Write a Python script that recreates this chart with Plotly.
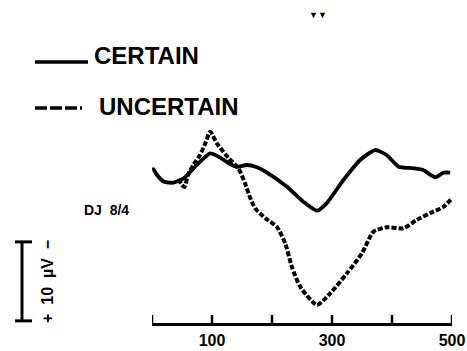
import plotly.graph_objects as go

# Latency (ms) and amplitude (µV, positive plotted downward)
certain_ms = [0, 2, 8, 20, 36, 53, 69, 83, 97, 111, 128, 142, 158, 175, 189, 225, 252, 275, 291, 319, 347, 372, 391, 411, 436, 452, 472, 486, 497]
certain_uv = [0.0, -0.1, 0.6, 1.5, 1.6, 1.05, -0.2, -1.25, -2.11, -1.7, -0.85, -0.4, -0.63, -0.35, 0.2, 2.11, 4.01, 5.15, 4.22, 1.27, -1.27, -2.53, -1.9, -0.42, -0.22, 0.0, 0.92, 0.34, 0.34]

uncertain_ms = [44, 50, 54, 60, 69, 80, 89, 97, 108, 128, 144, 155, 164, 172, 189, 208, 222, 233, 247, 275, 297, 325, 350, 369, 391, 419, 441, 463, 486, 500]
uncertain_uv = [1.14, 1.9, 2.15, 0.63, -0.63, -1.9, -3.4, -4.85, -3.38, -1.48, -0.22, 1.68, 3.58, 4.85, 6.11, 7.18, 9.28, 12.24, 14.77, 17.09, 15.61, 13.08, 10.54, 7.81, 7.25, 7.38, 6.33, 5.48, 4.65, 3.58]

tick_vals = [0, 100, 200, 300, 400, 500]
tick_text = ["", "100", "", "300", "", "500"]

series_names = ["CERTAIN", "UNCERTAIN"]
subject_label = "DJ  8/4"
scale_label = "+  10  µV  −"
scale_uv = 10

W, H = 467, 351
L, R, T, B = 152, 15, 120, 28
PW, PH = W - L - R, H - T - B


def xp(px):
    return (px - L) / PW


def yp(py):
    return (H - B - py) / PH


BOLD = dict(family="Liberation Sans", color="black", weight=700)

fig = go.Figure()
fig.add_trace(go.Scatter(x=certain_ms, y=certain_uv, mode="lines", name=series_names[0],
                         line=dict(color="black", width=3.8, shape="spline", smoothing=0.6),
                         cliponaxis=False, showlegend=False))
fig.add_trace(go.Scatter(x=uncertain_ms, y=uncertain_uv, mode="lines", name=series_names[1],
                         line=dict(color="black", width=4, dash="5px,2px", shape="spline", smoothing=0.6),
                         cliponaxis=False, showlegend=False))

shapes = []
# axis tick marks (pointing up from the axis line)
for tv in tick_vals:
    shapes.append(dict(type="line", xref="x", yref="paper", x0=tv, x1=tv, y0=0, y1=8 / PH,
                       line=dict(color="black", width=2.5)))
# legend lines
shapes.append(dict(type="line", xref="paper", yref="paper", x0=xp(35), x1=xp(88), y0=yp(62), y1=yp(62),
                   line=dict(color="black", width=3.5)))
shapes.append(dict(type="line", xref="paper", yref="paper", x0=xp(35), x1=xp(82), y0=yp(108), y1=yp(108),
                   line=dict(color="black", width=3.5, dash="12px,3px")))
# scale bar (10 µV in data units)
y_top = 9.1
shapes.append(dict(type="line", xref="paper", yref="y", x0=xp(22), x1=xp(22), y0=y_top, y1=y_top + scale_uv,
                   line=dict(color="black", width=3)))
for yy in (y_top, y_top + scale_uv):
    shapes.append(dict(type="line", xref="paper", yref="y", x0=xp(15), x1=xp(32), y0=yy, y1=yy,
                       line=dict(color="black", width=3)))

annotations = [
    dict(text=series_names[0], x=xp(92), y=yp(56), xanchor="left", yanchor="middle",
         font=dict(size=24, **BOLD)),
    dict(text=series_names[1], x=xp(97), y=yp(106), xanchor="left", yanchor="middle",
         font=dict(size=24, **BOLD)),
    dict(text=subject_label, x=xp(82), y=yp(210), xanchor="left", yanchor="middle",
         font=dict(size=14, **BOLD)),
    dict(text=scale_label, x=xp(47), y=yp(282), xanchor="center", yanchor="middle", textangle=-90,
         font=dict(size=16, **BOLD)),
    dict(text="▼▼", x=xp(318), y=yp(15), xanchor="center", yanchor="middle",
         font=dict(size=9, **BOLD)),
]
for a in annotations:
    a.update(xref="paper", yref="paper", showarrow=False)

fig.update_layout(
    width=W, height=H, margin=dict(l=L, r=R, t=T, b=B),
    paper_bgcolor="white", plot_bgcolor="white",
    shapes=shapes, annotations=annotations,
    xaxis=dict(range=[0, 500], showline=True, linecolor="black", linewidth=2.5,
               ticks="", tickvals=tick_vals, ticktext=tick_text, showgrid=False, zeroline=False,
               automargin=False, ticklabelstandoff=1,
               tickfont=dict(size=16, **BOLD)),
    yaxis=dict(range=[19.37, -6.33], visible=False, showgrid=False, zeroline=False, automargin=False),
)

fig.write_html("out.html")
